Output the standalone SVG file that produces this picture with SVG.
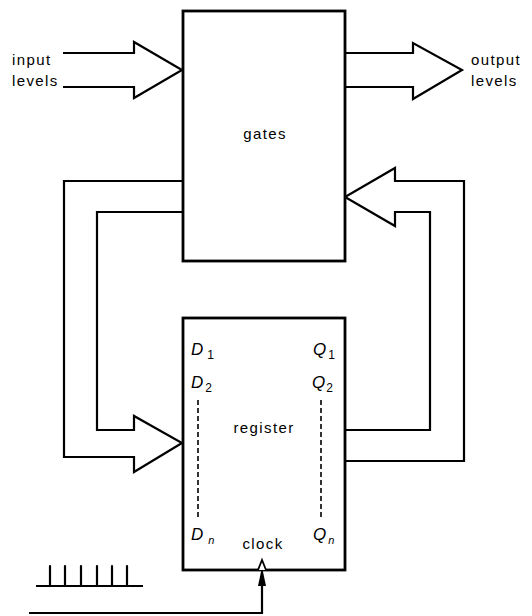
<svg xmlns="http://www.w3.org/2000/svg" width="532" height="616" viewBox="0 0 532 616">
<style>
.box{fill:#fff;stroke:#000;stroke-width:2.8}
.ln{fill:none;stroke:#000;stroke-width:2.2;stroke-linejoin:miter}
.dash{fill:none;stroke:#000;stroke-width:1.6;stroke-dasharray:5 3}
.t{font-family:"Liberation Sans",Arial,sans-serif;font-size:15px;letter-spacing:1.4px;fill:#000}
.m{text-anchor:middle}
.v{font-family:"Liberation Sans",Arial,sans-serif;font-size:17px;font-style:italic;fill:#000}
.s{font-size:12px;font-style:normal}
.si{font-size:11px;font-style:italic}
</style>
<rect width="532" height="616" fill="#fff"/>
<g id="connectors">
<path class="ln" d="M63,53 H134 V42 L182,70 L134,98 V87 H63"/>
<path class="ln" d="M345,53 H413 V43 L462,70 L413,99 V87 H345"/>
<path class="ln" d="M183,181 H64 V457 H134 V472 L182,443 L134,416 V430 H97 V212 H183"/>
<path class="ln" d="M345,430 H430 V212 H395 V226 L345,197 L395,168 V181 H464 V461 H345"/>
<path class="ln" d="M262,585 V613 H29"/>
<polygon points="262,567 258,586 266,586" fill="#000"/>
</g>
<g id="input-label">
<text class="t" x="12" y="65">input</text>
<text class="t" x="12" y="86">levels</text>
</g>
<g id="output-label">
<text class="t" x="471" y="65">output</text>
<text class="t" x="471" y="86">levels</text>
</g>
<g id="gates">
<rect class="box" x="183" y="11" width="162" height="250"/>
<text class="t m" x="265" y="139">gates</text>
</g>
<g id="register">
<rect class="box" x="183" y="318" width="162" height="252"/>
<text class="t m" x="264" y="433">register</text>
<text class="v" x="191" y="355">D<tspan class="s" dx="4" dy="4">1</tspan></text>
<text class="v" x="191" y="388">D<tspan class="s" dx="2" dy="4">2</tspan></text>
<text class="v" x="191" y="540">D<tspan class="si" dx="5" dy="4">n</tspan></text>
<text class="v" x="313" y="355">Q<tspan class="s" dx="2" dy="4">1</tspan></text>
<text class="v" x="312" y="388">Q<tspan class="s" dx="1" dy="4">2</tspan></text>
<text class="v" x="313" y="540">Q<tspan class="si" dx="2" dy="4">n</tspan></text>
<path class="dash" d="M198,400 V520"/>
<path class="dash" d="M321,400 V520"/>
<text class="t m" x="263" y="549">clock</text>
<path d="M258,570 L262,560 L266,570" fill="#fff" stroke="#000" stroke-width="1.8"/>
</g>
<g id="clock-pulses">
<path class="ln" d="M36,586 H143" stroke-width="2.6"/>
<path class="ln" d="M50,586 V566 M65,586 V566 M81,586 V566 M97,586 V566 M112,586 V566 M127,586 V566" stroke-width="2.6" stroke-linecap="round"/>
</g>
</svg>
